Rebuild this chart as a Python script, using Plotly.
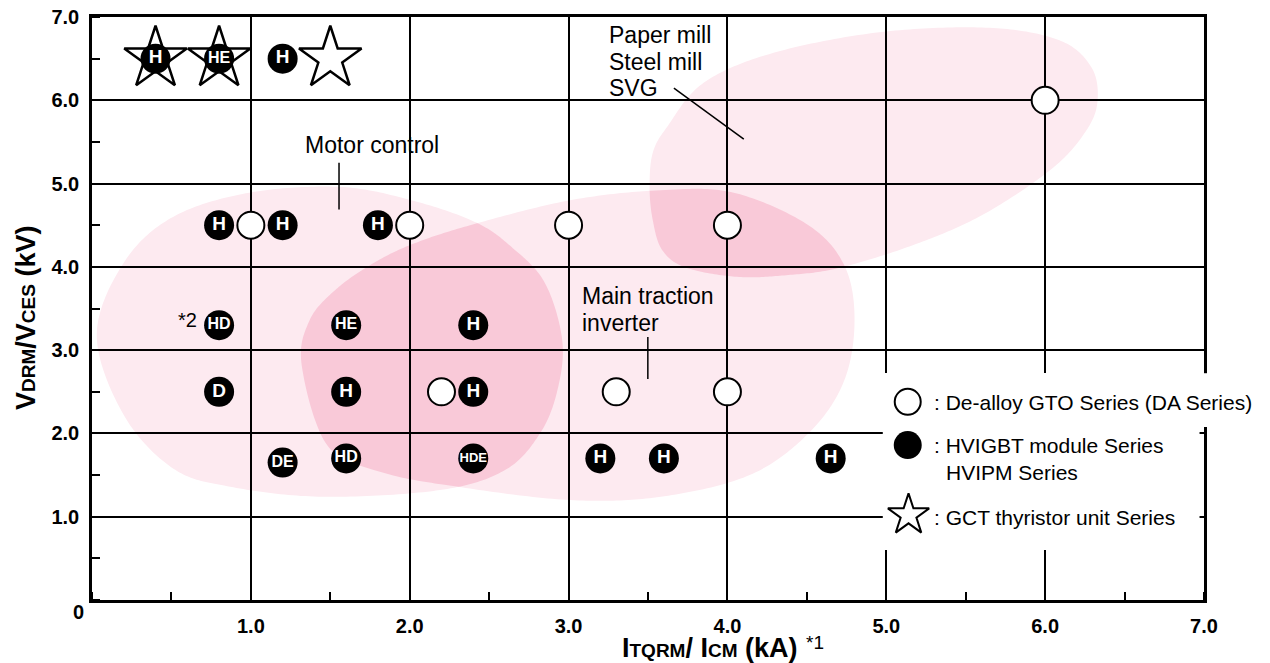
import numpy as np
import plotly.graph_objects as go

# ---------------- data ----------------
x_tick_vals = [1, 2, 3, 4, 5, 6, 7]
x_tick_text = ["1.0", "2.0", "3.0", "4.0", "5.0", "6.0", "7.0"]
y_tick_vals = [1, 2, 3, 4, 5, 6, 7]
y_tick_text = ["1.0", "2.0", "3.0", "4.0", "5.0", "6.0", "7.0"]

# De-alloy GTO series (white circles)
gto_x = [1.0, 2.0, 3.0, 4.0, 2.2, 3.3, 4.0, 6.0]
gto_y = [4.5, 4.5, 4.5, 4.5, 2.5, 2.5, 2.5, 6.0]

# HVIGBT / HVIPM series (black circles with labels)
igbt_x = [0.8, 1.2, 1.8, 0.8, 1.6, 2.4, 0.8, 1.6, 2.4, 1.2, 1.6, 2.4, 3.2, 3.6, 4.65, 0.4, 0.8, 1.2]
igbt_y = [4.5, 4.5, 4.5, 3.3, 3.3, 3.3, 2.5, 2.5, 2.5, 1.65, 1.7, 1.7, 1.7, 1.7, 1.7, 6.5, 6.5, 6.5]
igbt_label = ["H", "H", "H", "HD", "HE", "H", "D", "H", "H", "DE", "HD", "HDE", "H", "H", "H", "H", "HE", "H"]

# GCT thyristor units (stars)
gct_x = [0.4, 0.8, 1.5]
gct_y = [6.5, 6.5, 6.5]

# application regions (outline control points, kA / kV)
motor_x = [0.03, 0.20, 0.51, 0.99, 1.56, 2.01, 2.41, 2.64, 2.85, 2.96, 2.93, 2.82, 2.60, 2.19, 1.45, 0.87, 0.51, 0.20]
motor_y = [3.18, 4.05, 4.60, 4.89, 4.96, 4.80, 4.54, 4.24, 3.81, 3.12, 2.52, 2.00, 1.56, 1.32, 1.24, 1.36, 1.58, 2.22]
traction_x = [1.32, 1.37, 1.53, 1.75, 2.00, 2.38, 3.01, 3.58, 4.04, 4.51, 4.74, 4.80, 4.73, 4.51, 4.14, 3.58, 3.01, 2.30, 1.81, 1.48]
traction_y = [2.82, 3.36, 3.72, 4.02, 4.26, 4.50, 4.80, 4.92, 4.89, 4.50, 4.00, 3.33, 2.61, 2.00, 1.50, 1.24, 1.20, 1.36, 1.54, 1.86]
mill_x = [3.51, 3.53, 3.59, 3.74, 4.06, 4.37, 4.71, 5.21, 5.63, 6.05, 6.26, 6.33, 6.29, 6.09, 5.65, 4.97, 4.29, 3.85, 3.62, 3.53]
mill_y = [4.96, 4.56, 4.20, 3.99, 3.88, 3.90, 3.99, 4.29, 4.65, 5.19, 5.64, 6.00, 6.40, 6.72, 6.87, 6.82, 6.57, 6.21, 5.68, 5.37]

legend_text = [": De-alloy GTO Series (DA Series)", ": HVIGBT module Series", "HVIPM Series",
               ": GCT thyristor unit Series"]

FONT = "Liberation Sans, Arial, Helvetica, sans-serif"
LIGHT = "#FDEAF0"
DARK = "#F9C9D8"


def smooth_closed(xs, ys, n=24):
    P = np.column_stack([xs, ys]).astype(float)
    m = len(P)
    out = []
    for i in range(m):
        p0, p1, p2, p3 = P[(i - 1) % m], P[i], P[(i + 1) % m], P[(i + 2) % m]
        for t in np.linspace(0, 1, n, endpoint=False):
            t2, t3 = t * t, t * t * t
            out.append(0.5 * (2 * p1 + (-p0 + p2) * t + (2 * p0 - 5 * p1 + 4 * p2 - p3) * t2
                              + (-p0 + 3 * p1 - 3 * p2 + p3) * t3))
    return np.array(out)


def signed_area(p):
    return 0.5 * np.sum(p[:, 0] * np.roll(p[:, 1], -1) - np.roll(p[:, 0], -1) * p[:, 1])


def clip_poly(subject, clipper):
    if signed_area(clipper) < 0:
        clipper = clipper[::-1]
    out = [np.array(p) for p in subject]
    k = len(clipper)
    for i in range(k):
        a, b = clipper[i], clipper[(i + 1) % k]
        if not out:
            break
        inp, out = out, []

        def cr(p):
            return (b[0] - a[0]) * (p[1] - a[1]) - (b[1] - a[1]) * (p[0] - a[0])

        s = inp[-1]
        for e in inp:
            ce, cs = cr(e), cr(s)
            if ce >= 0:
                if cs < 0:
                    out.append(s + (cs / (cs - ce)) * (e - s))
                out.append(e)
            elif cs >= 0:
                out.append(s + (cs / (cs - ce)) * (e - s))
            s = e
    return np.array(out)


def to_path(arr):
    return "M " + " L ".join(f"{x:.4f},{y:.4f}" for x, y in arr) + " Z"


motor = smooth_closed(motor_x, motor_y)
traction = smooth_closed(traction_x, traction_y)
mill = smooth_closed(mill_x, mill_y)
ov1 = clip_poly(motor, traction)
ov2 = clip_poly(mill, traction)

shapes = []
for poly in (motor, traction, mill):
    shapes.append(dict(type="path", path=to_path(poly), xref="x", yref="y", layer="below",
                       fillcolor=LIGHT, line=dict(width=0)))
for poly in (ov1, ov2):
    shapes.append(dict(type="path", path=to_path(poly), xref="x", yref="y", layer="below",
                       fillcolor=DARK, line=dict(width=0)))

# legend white box (hides the grid)
shapes.append(dict(type="rect", xref="x", yref="y", x0=4.978, x1=6.972, y0=0.60, y1=2.725,
                   layer="between", fillcolor="white", line=dict(width=0)))
# the first legend line runs over the right frame
shapes.append(dict(type="rect", xref="paper", yref="paper", x0=0.9946, x1=1.008, y0=0.2967, y1=0.389,
                   layer="above", fillcolor="white", line=dict(width=0)))

# leader lines
for (x0, y0, x1, y1) in [(1.555, 5.25, 1.555, 4.69), (3.499, 3.157, 3.499, 2.653), (3.663, 6.146, 4.103, 5.534)]:
    shapes.append(dict(type="line", xref="x", yref="y", x0=x0, y0=y0, x1=x1, y1=y1,
                       layer="between", line=dict(color="black", width=1.5)))

fig = go.Figure()

# stars
fig.add_trace(go.Scatter(x=gct_x, y=gct_y, mode="markers", hoverinfo="skip",
                         marker=dict(symbol="star", size=47, color="white",
                                     line=dict(color="black", width=2.5))))
# white circles
fig.add_trace(go.Scatter(x=gto_x, y=gto_y, mode="markers", hoverinfo="skip",
                         marker=dict(symbol="circle", size=27, color="white",
                                     line=dict(color="black", width=2))))
# black circles
size_for = {1: 19, 2: 16, 3: 13}
fig.add_trace(go.Scatter(x=igbt_x, y=igbt_y, mode="markers+text", hoverinfo="skip",
                         text=igbt_label, textposition="middle center",
                         textfont=dict(family=FONT, color="white", weight="bold",
                                       size=[size_for[len(t)] for t in igbt_label]),
                         marker=dict(symbol="circle", size=30, color="black",
                                     line=dict(color="black", width=0))))

# legend markers
fig.add_trace(go.Scatter(x=[5.135], y=[2.38], mode="markers", hoverinfo="skip",
                         marker=dict(symbol="circle", size=26, color="white",
                                     line=dict(color="black", width=2))))
fig.add_trace(go.Scatter(x=[5.135], y=[1.86], mode="markers", hoverinfo="skip",
                         marker=dict(symbol="circle", size=28, color="black")))
fig.add_trace(go.Scatter(x=[5.14], y=[1.02], mode="markers", hoverinfo="skip",
                         marker=dict(symbol="star", size=31, color="white",
                                     line=dict(color="black", width=2))))

ann = []
LBL = dict(family=FONT, size=23, color="black")
ann.append(dict(x=1.762, y=5.46, text="Motor control", xanchor="center", yanchor="middle", font=LBL))
ann.append(dict(x=3.071, y=3.65, text="Main traction", xanchor="left", yanchor="middle", font=LBL))
ann.append(dict(x=3.071, y=3.325, text="inverter", xanchor="left", yanchor="middle", font=LBL))
for txt, yy in zip(["Paper mill", "Steel mill", "SVG"], [6.78, 6.46, 6.15]):
    ann.append(dict(x=3.241, y=yy, text=txt, xanchor="left", yanchor="middle", font=LBL))
ann.append(dict(x=0.604, y=3.36, text="*2", xanchor="center", yanchor="middle",
                font=dict(family=FONT, size=20, color="black")))

LEG = dict(family=FONT, size=21, color="black")
for txt, xx, yy in zip(legend_text, [5.29, 5.29, 5.365, 5.29], [2.377, 1.861, 1.525, 0.996]):
    ann.append(dict(x=xx, y=yy, text=txt, xanchor="left", yanchor="middle", font=LEG))

for a in ann:
    a.update(xref="x", yref="y", showarrow=False)

# axis titles and corner zero
ann.append(dict(xref="paper", yref="paper", x=-0.0594, y=0.4837, textangle=-90, showarrow=False,
                xanchor="center", yanchor="middle",
                text="<b>V<span style='font-size:19px'>DRM</span>/V<span style='font-size:19px'>CES</span> (kV)</b>",
                font=dict(family=FONT, size=27, color="black")))
ann.append(dict(xref="paper", yref="paper", x=0.5558, y=-0.0823, showarrow=False,
                xanchor="center", yanchor="middle",
                text="<b>I<span style='font-size:19px'>TQRM</span>/ I<span style='font-size:19px'>CM</span> (kA)</b>",
                font=dict(family=FONT, size=27, color="black")))
ann.append(dict(xref="paper", yref="paper", x=(815 - 92) / 1112, y=(600 - 642) / 583, showarrow=False,
                xanchor="center", yanchor="middle", text="*1",
                font=dict(family=FONT, size=19, color="black")))
ann.append(dict(xref="paper", yref="paper", x=(78 - 92) / 1112, y=(600 - 612) / 583, showarrow=False,
                xanchor="center", yanchor="middle", text="0",
                font=dict(family=FONT, size=20, color="black", weight="bold")))

axis_common = dict(
    showgrid=True, gridcolor="black", gridwidth=2,
    showline=True, linecolor="black", linewidth=2.5, mirror=True,
    zeroline=False, ticks="", automargin=False, fixedrange=True,
    tickfont=dict(family=FONT, size=20, color="black", weight="bold"),
    minor=dict(ticks="inside", ticklen=8, tickwidth=1.5, tickcolor="black",
               dtick=0.5, tick0=0, showgrid=False),
    ticklabelstandoff=6,
)

fig.update_layout(
    width=1270, height=663,
    margin=dict(l=92, r=66, t=17, b=63),
    paper_bgcolor="white", plot_bgcolor="white",
    showlegend=False,
    xaxis=dict(range=[0, 7], tickmode="array", tickvals=x_tick_vals, ticktext=x_tick_text, **axis_common),
    yaxis=dict(range=[0, 7], tickmode="array", tickvals=y_tick_vals, ticktext=y_tick_text, **axis_common),
    shapes=shapes,
    annotations=ann,
)

fig.write_html("out.html", config={"displayModeBar": False},
               post_script="document.body.style.margin='0px';document.body.style.overflow='hidden';")
